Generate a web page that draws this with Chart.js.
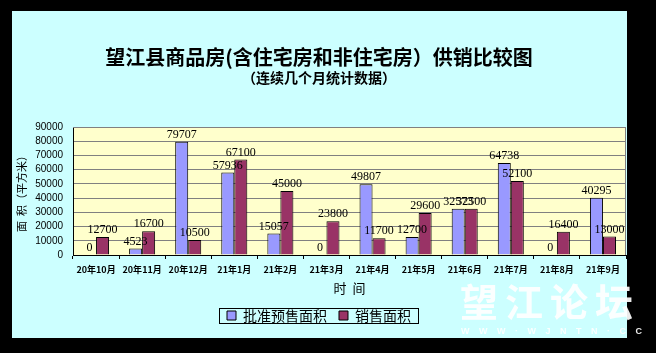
<!DOCTYPE html>
<html>
<head>
<meta charset="utf-8">
<script src="https://cdn.jsdelivr.net/npm/chart.js@4.4.1/dist/chart.umd.min.js"></script>
<style>
  body { margin: 0; background: #000; width: 656px; height: 353px; overflow: hidden; position: relative; }
  #box { position: absolute; left: 12px; top: 11px; width: 615px; height: 327px; background: #ccffff; }
  .wm { position: absolute; color: rgba(255,255,255,0.92); font-family: "Noto Sans CJK SC"; font-weight: 700; line-height: 1; white-space: nowrap; }
</style>
</head>
<body>
<div id="box"><canvas id="chart" width="615" height="327"></canvas></div>
<div class="wm" style="left:460px;top:281px;font-size:38px;letter-spacing:7px;">望江论坛</div>
<div class="wm" style="left:461px;top:327px;font-size:9px;letter-spacing:9.5px;font-family:'Liberation Sans';">WWW·WJNTN·CC</div>
<script>
var months = ['20年10月', '20年11月', '20年12月', '21年1月', '21年2月', '21年3月',
              '21年4月', '21年5月', '21年6月', '21年7月', '21年8月', '21年9月'];
var presale = [0, 4523, 79707, 57936, 15057, 0, 49807, 12700, 32573, 64738, 0, 40295];
var sales = [12700, 16700, 10500, 67100, 45000, 23800, 11700, 29600, 32500, 52100, 16400, 13000];
var yMin = 0;
var yMax = 90000;
var yStep = 10000;

// plot background + grey frame like the excel chart
var plotBg = {
  id: 'plotBg',
  beforeDraw: function (chart) {
    var a = chart.chartArea, ctx = chart.ctx;
    ctx.save();
    ctx.fillStyle = '#ffffcc';
    ctx.fillRect(a.left, a.top, a.right - a.left, a.bottom - a.top);
    ctx.restore();
  },
  beforeDatasetsDraw: function (chart) {
    var a = chart.chartArea, ctx = chart.ctx;
    ctx.save();
    ctx.strokeStyle = '#808080';
    ctx.lineWidth = 1;
    ctx.beginPath();
    ctx.moveTo(a.left, a.top + 0.5);
    ctx.lineTo(a.right - 0.5, a.top + 0.5);
    ctx.lineTo(a.right - 0.5, a.bottom);
    ctx.stroke();
    ctx.restore();
  }
};

// value labels above each bar
var barLabels = {
  id: 'barLabels',
  afterDatasetsDraw: function (chart) {
    var ctx = chart.ctx;
    ctx.save();
    ctx.font = '12px "Liberation Serif"';
    ctx.fillStyle = '#000';
    ctx.textAlign = 'center';
    ctx.textBaseline = 'alphabetic';
    chart.data.datasets.forEach(function (ds, i) {
      chart.getDatasetMeta(i).data.forEach(function (el, j) {
        ctx.fillText(String(ds.data[j]), el.x, el.y - 4);
      });
    });
    ctx.restore();
  }
};

// black frame round the legend
var legendFrame = {
  id: 'legendFrame',
  afterDraw: function (chart) {
    var boxes = chart.legend.legendHitBoxes;
    if (!boxes || !boxes.length) return;
    var first = boxes[0], last = boxes[boxes.length - 1];
    var cy = first.top + first.height / 2;
    var ctx = chart.ctx;
    ctx.save();
    ctx.strokeStyle = '#000';
    ctx.lineWidth = 1;
    ctx.strokeRect(Math.round(first.left - 8) + 0.5, Math.round(cy - 8) + 0.5,
                   Math.round(last.left + last.width - first.left + 15), 15);
    ctx.restore();
  }
};

new Chart(document.getElementById('chart'), {
  type: 'bar',
  data: {
    labels: months,
    datasets: [{
      label: '批准预售面积',
      data: presale,
      backgroundColor: '#9999ff',
      borderColor: '#000',
      borderWidth: 1,
      categoryPercentage: 0.565,
      barPercentage: 1.0
    }, {
      label: '销售面积',
      data: sales,
      backgroundColor: '#993366',
      borderColor: '#000',
      borderWidth: 1,
      categoryPercentage: 0.565,
      barPercentage: 1.0
    }]
  },
  options: {
    responsive: false,
    animation: false,
    layout: { padding: { top: 0, right: 1, bottom: 5.5, left: 0 } },
    plugins: {
      title: {
        display: true,
        text: '望江县商品房(含住宅房和非住宅房）供销比较图',
        color: '#000',
        font: { family: '"Noto Sans CJK SC"', size: 20, weight: 'bold' },
        padding: { top: 34, bottom: 0 }
      },
      subtitle: {
        display: true,
        text: '（连续几个月统计数据）',
        color: '#000',
        font: { family: '"Noto Sans CJK SC"', size: 14, weight: 'bold' },
        padding: { top: 0.5, bottom: 40.7 }
      },
      legend: {
        position: 'bottom',
        labels: {
          color: '#000',
          boxWidth: 9,
          boxHeight: 9,
          padding: 12,
          font: { family: '"Noto Sans CJK SC"', size: 14 }
        }
      },
      tooltip: { enabled: false }
    },
    scales: {
      x: {
        offset: true,
        grid: { display: true, drawOnChartArea: false, drawTicks: true, tickLength: 4, color: '#000', offset: true },
        border: { color: '#000' },
        ticks: {
          color: '#000', padding: 5, maxRotation: 0, autoSkip: false,
          font: { family: '"Noto Sans CJK SC"', size: 9, weight: 'bold' }
        },
        title: {
          display: true, text: '时  间', color: '#000',
          font: { family: '"Noto Sans CJK SC"', size: 13 },
          padding: { top: 0, bottom: 1 }
        },
        afterFit: function (scale) { scale.height = 41.5; }
      },
      y: {
        min: yMin,
        max: yMax,
        grid: { color: '#808080', drawTicks: false },
        border: { color: '#000' },
        ticks: {
          stepSize: yStep, autoSkip: false, color: '#000', padding: 10,
          font: { family: '"Liberation Sans"', size: 10 },
          callback: function (v) { return String(v); }
        },
        title: {
          display: true, text: '面  积（平方米）', color: '#000',
          font: { family: '"Noto Sans CJK SC"', size: 11 },
          padding: { top: 3, bottom: 0 }
        },
        afterFit: function (scale) { scale.width = 61; }
      }
    }
  },
  plugins: [plotBg, barLabels, legendFrame]
});
</script>
</body>
</html>
